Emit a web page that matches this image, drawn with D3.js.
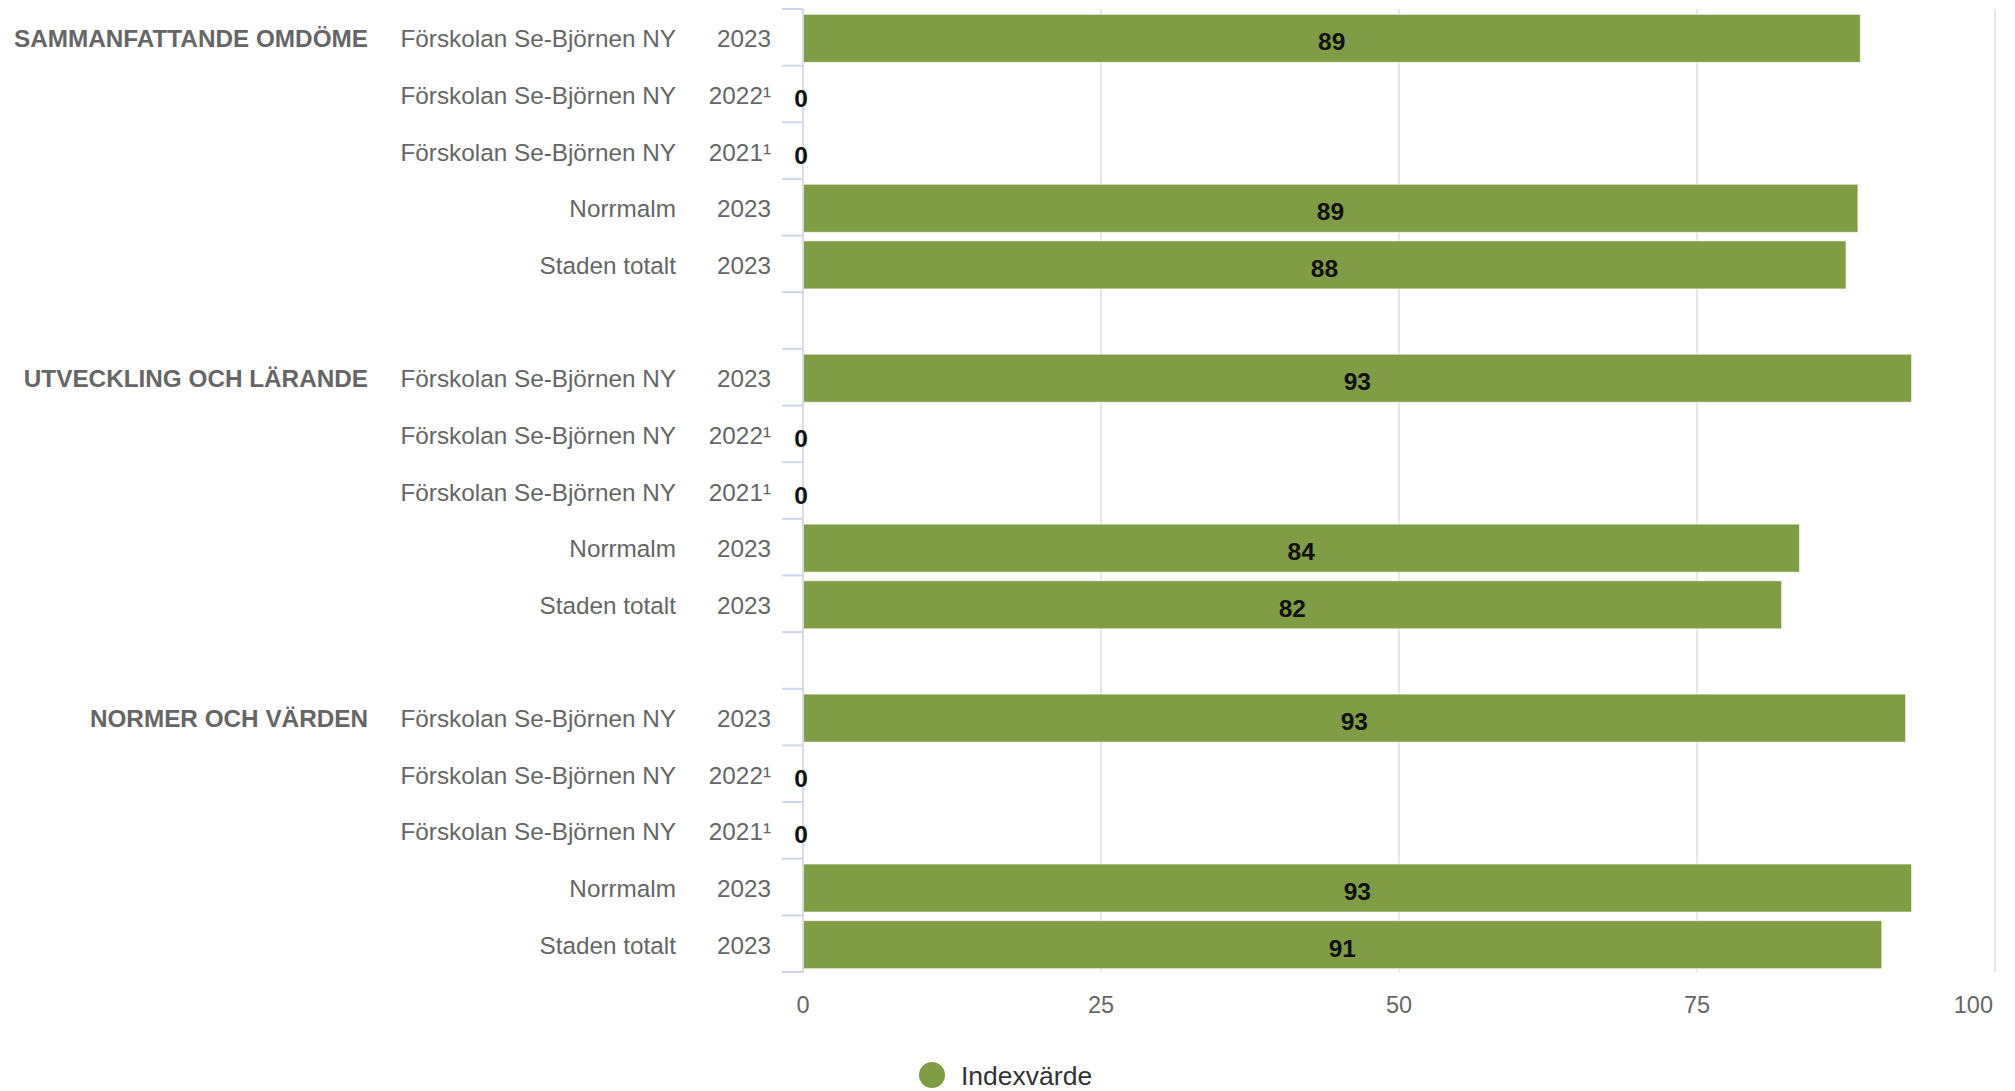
<!DOCTYPE html>
<html>
<head>
<meta charset="utf-8">
<script src="https://cdn.jsdelivr.net/npm/d3@7/dist/d3.min.js"></script>
<style>
  html, body { margin: 0; padding: 0; background: #fff; }
  svg { display: block; font-family: "Liberation Sans", Arial, Helvetica, sans-serif; }
</style>
</head>
<body>
<svg id="chart" width="2015" height="1091"></svg>
<script>
// ---- data ----
const groups = ["SAMMANFATTANDE OMDÖME", "UTVECKLING OCH LÄRANDE", "NORMER OCH VÄRDEN"];
const names = ["Förskolan Se-Björnen NY", "Förskolan Se-Björnen NY", "Förskolan Se-Björnen NY", "Norrmalm", "Staden totalt"];
const years = ["2023", "2022¹", "2021¹", "2023", "2023"];
const sammanfattandeValues = [88.7, 0, 0, 88.5, 87.5];
const utvecklingValues = [93.0, 0, 0, 83.6, 82.1];
const normerValues = [92.5, 0, 0, 93.0, 90.5];
const xTicks = [0, 25, 50, 75, 100];
const seriesName = "Indexvärde";

const groupValues = [sammanfattandeValues, utvecklingValues, normerValues];

// build rows (with a blank row between groups)
const rows = [];
groups.forEach((g, gi) => {
  names.forEach((n, i) => {
    rows.push({ key: g + "|" + i, group: i === 0 ? g : "", name: n, year: years[i], value: groupValues[gi][i] });
  });
  if (gi < groups.length - 1) rows.push({ key: "gap" + gi, blank: true });
});

// ---- layout ----
const svg = d3.select("#chart");
const green = "#809c45";
const plotTop = 9, plotBottom = 972;
const x = d3.scaleLinear().domain([0, 100]).range([803, 1995]);
const y = d3.scaleBand().domain(rows.map(r => r.key)).range([plotTop, plotBottom]).padding(0);
const bw = y.bandwidth();
const barH = 48;

// grid lines
svg.append("g").selectAll("line").data(xTicks.filter(t => t > 0)).join("line")
  .attr("x1", d => x(d)).attr("x2", d => x(d))
  .attr("y1", plotTop).attr("y2", plotBottom)
  .attr("stroke", "#e6e6e6").attr("stroke-width", 2);

// bars
const dataRows = rows.filter(r => !r.blank);
svg.append("g").selectAll("rect").data(dataRows.filter(r => r.value > 0)).join("rect")
  .attr("x", x(0))
  .attr("y", d => y(d.key) + (bw - barH) / 2 + 1)
  .attr("width", d => x(d.value) - x(0))
  .attr("height", barH)
  .attr("fill", green)
  .attr("stroke", "#ffffff").attr("stroke-opacity", 0.6).attr("stroke-width", 1);

// axis line + ticks (category axis)
svg.append("line").attr("x1", x(0)).attr("x2", x(0)).attr("y1", plotTop).attr("y2", plotBottom)
  .attr("stroke", "#d6dbe4").attr("stroke-width", 2);
const boundaries = d3.range(rows.length + 1).map(i => plotTop + i * y.step());
svg.append("g").selectAll("line").data(boundaries).join("line")
  .attr("x1", x(0) - 21).attr("x2", x(0))
  .attr("y1", d => d).attr("y2", d => d)
  .attr("stroke", "#ccd6eb").attr("stroke-width", 2);

// category labels
const lab = svg.append("g").attr("fill", "#666").attr("font-size", 24.3).attr("text-anchor", "end");
dataRows.forEach(r => {
  const cy = y(r.key) + bw / 2 + 10;
  if (r.group) lab.append("text").attr("x", 368).attr("y", cy).attr("font-weight", "bold").attr("font-size", 24.3).text(r.group);
  lab.append("text").attr("x", 676).attr("y", cy).text(r.name);
  lab.append("text").attr("x", 771).attr("y", cy).text(r.year);
});

// data labels
svg.append("g").selectAll("text").data(dataRows).join("text")
  .attr("x", d => d.value > 0 ? (x(0) + x(d.value)) / 2 : x(0) - 2)
  .attr("y", d => y(d.key) + bw / 2 + 13)
  .attr("text-anchor", "middle")
  .attr("font-size", 24.5).attr("font-weight", "bold").attr("fill", "#111")
  .text(d => d3.format(".0f")(d.value));

// x axis labels
svg.append("g").selectAll("text").data(xTicks).join("text")
  .attr("x", d => d === 100 ? x(d) - 2 : x(d))
  .attr("y", 1013)
  .attr("text-anchor", d => d === 100 ? "end" : "middle")
  .attr("font-size", 23.5).attr("fill", "#666")
  .text(d => d);

// legend
const lg = svg.append("g");
lg.append("circle").attr("cx", 932).attr("cy", 1075).attr("r", 13).attr("fill", green);
lg.append("text").attr("x", 961).attr("y", 1085).attr("font-size", 26.5).attr("fill", "#333").text(seriesName);
</script>
</body>
</html>
